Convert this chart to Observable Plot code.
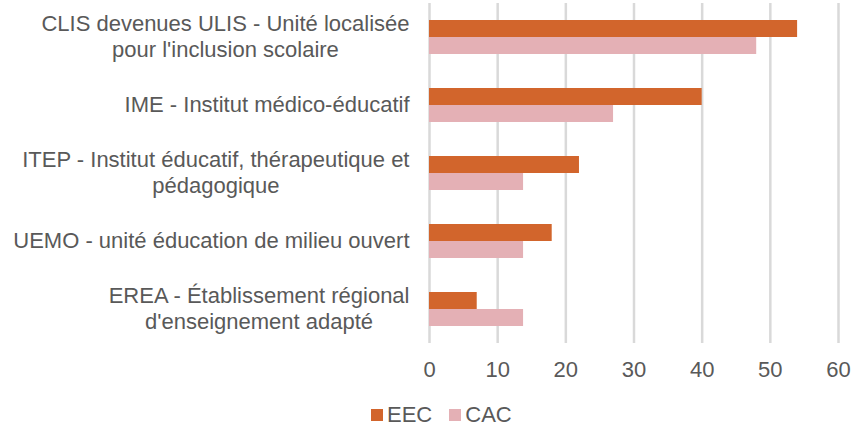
<!DOCTYPE html>
<html>
<head>
<meta charset="utf-8">
<script src="https://cdn.jsdelivr.net/npm/d3@7"></script>
<script src="https://cdn.jsdelivr.net/npm/@observablehq/plot@0.6"></script>
<style>
  html, body { margin: 0; padding: 0; background: #fff; }
  body { width: 856px; height: 427px; position: relative; overflow: hidden; font-family: "Liberation Sans", Arial, sans-serif; }
  #legend { position: absolute; top: 403px; left: 371px; display: flex; align-items: center; font-size: 22px; color: #595959; line-height: 24px; }
  #legend .sw { display: inline-block; width: 12px; height: 12px; margin-right: 4px; }
  #legend .item { display: flex; align-items: center; margin-right: 17px; }
</style>
</head>
<body>
<div id="chart"></div>
<div id="legend"></div>
<script>
const categories = [
  "CLIS devenues ULIS - Unité localisée pour l'inclusion scolaire",
  "IME - Institut médico-éducatif",
  "ITEP - Institut éducatif, thérapeutique et pédagogique",
  "UEMO - unité éducation de milieu ouvert",
  "EREA - Établissement régional d'enseignement adapté"
];
const categoryLabels = [
  "CLIS devenues ULIS - Unité localisée\npour l'inclusion scolaire",
  "IME - Institut médico-éducatif",
  "ITEP - Institut éducatif, thérapeutique et\npédagogique",
  "UEMO - unité éducation de milieu ouvert",
  "EREA - Établissement régional\nd'enseignement adapté"
];
const seriesNames = ["EEC", "CAC"];
const eecValues = [54, 40, 22, 18, 7];
const cacValues = [48, 27, 13.8, 13.8, 13.8];
const xTicks = [0, 10, 20, 30, 40, 50, 60];
const seriesColors = ["#D2652C", "#E4B0B5"];

const data = [];
categories.forEach((c, i) => {
  data.push({category: c, series: "EEC", value: eecValues[i]});
  data.push({category: c, series: "CAC", value: cacValues[i]});
});
const labelOf = new Map(categories.map((c, i) => [c, categoryLabels[i]]));

const chart = Plot.plot({
  width: 856,
  height: 395,
  marginLeft: 429,
  marginRight: 18,
  marginTop: 2,
  marginBottom: 52,
  style: {fontFamily: "'Liberation Sans', Arial, sans-serif", fontSize: "22px", color: "#595959", background: "#fff"},
  x: {domain: [0, 60]},
  y: {domain: seriesNames, paddingInner: 0, paddingOuter: 1, axis: null},
  fy: {domain: categories, padding: 0},
  color: {domain: seriesNames, range: seriesColors},
  marks: [
    Plot.gridX(xTicks, {stroke: "#d9d9d9", strokeOpacity: 1, strokeWidth: 2.5}),
    Plot.barX(data, {x: "value", y: "series", fy: "category", fill: "series"}),
    Plot.axisX({ticks: xTicks, tickSize: 0, tickPadding: 18, fontSize: 22, fill: "#595959", label: null}),
    Plot.axisFy({anchor: "left", tickSize: 0, tickPadding: 20, dy: -2, fontSize: 22, lineHeight: 1.18, fill: "#595959", label: null, tickFormat: d => labelOf.get(d)})
  ]
});
document.getElementById("chart").appendChild(chart);

// center the lines of multi-line category labels on each other (right-aligned block)
chart.querySelectorAll("text").forEach(t => {
  const spans = t.querySelectorAll("tspan");
  if (spans.length > 1) {
    const W = Math.max(...Array.from(spans, s => s.getComputedTextLength()));
    t.setAttribute("text-anchor", "middle");
    spans.forEach(s => s.setAttribute("x", -W / 2));
  }
});

const legend = document.getElementById("legend");
seriesNames.forEach((s, i) => {
  const item = document.createElement("span");
  item.className = "item";
  const sw = document.createElement("span");
  sw.className = "sw";
  sw.style.background = seriesColors[i];
  item.appendChild(sw);
  item.appendChild(document.createTextNode(s));
  legend.appendChild(item);
});
</script>
</body>
</html>
